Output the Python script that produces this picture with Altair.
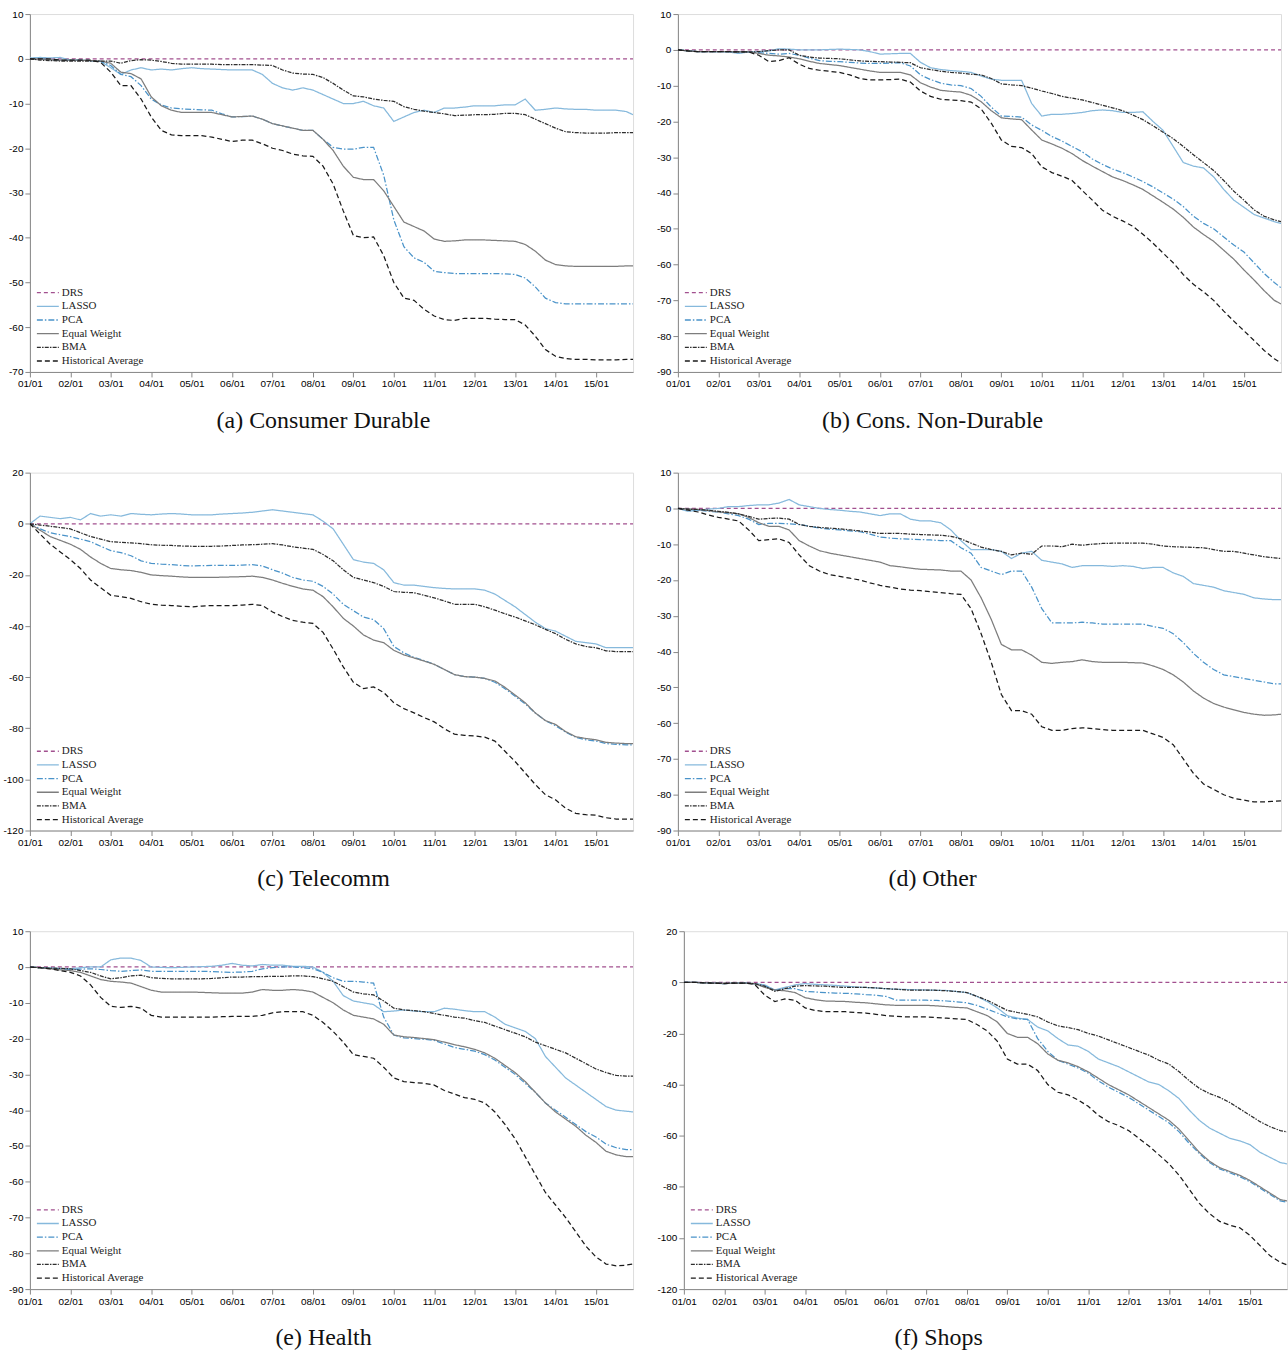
import altair as alt
import pandas as pd

# ---------------- time grid (quarterly, Jan 2001 .. Oct 2015, then Dec 2015) ----------------
DATES = [f"{y}-{m:02d}" for y in range(2001, 2016) for m in (1, 4, 7, 10)] + ["2015-12"]
YEAR_TICKS = list(range(2001, 2016))

SERIES = ["DRS", "LASSO", "PCA", "Equal Weight", "BMA", "Historical Average"]
COLORS = ["#a2508f", "#86b9dc", "#4a93c9", "#7d7d7d", "#2e2e2e", "#1a1a1a"]
DASHES = [[4, 3], [1, 0], [6, 2, 1.5, 2], [1, 0], [4, 1.2, 1.5, 1.2], [5, 3]]

DRS = [0.0] * 61

# ---------------- (a) Consumer Durable ----------------
CD_LASSO = [0.2, 0.3, 0.2, 0.3, -0.3, -0.3, -0.4, -0.6, -2, -3.5, -2.5, -2, -2.5, -2.3, -2.5, -2.2,
            -2, -2.2, -2.3, -2.4, -2.5, -2.5, -2.5, -3.5, -5.5, -6.5, -7, -6.5, -7, -8, -9, -10,
            -10, -9.5, -10.5, -11, -14, -13, -12, -11.5, -12, -11, -11, -10.8, -10.5, -10.5, -10.5, -10.3,
            -10.3, -9, -11.5, -11.3, -11, -11.2, -11.3, -11.3, -11.5, -11.5, -11.5, -11.8, -12.5]
CD_PCA = [0, 0.1, -0.2, -0.3, -0.3, -0.3, -0.4, -0.6, -1.5, -3.5, -4, -6, -9, -10.3, -11, -11.2,
          -11.3, -11.4, -11.5, -12.3, -13, -12.9, -12.8, -13.5, -14.5, -15, -15.5, -16, -16, -18, -19.8, -20.2,
          -20.2, -19.8, -19.8, -26, -36, -42, -44.5, -45.5, -47.5, -47.8, -48, -48, -48, -48, -48, -48.1,
          -48.2, -49, -51, -53.5, -54.5, -54.8, -54.8, -54.8, -54.8, -54.8, -54.8, -54.8, -54.8]
CD_EW = [0, 0, -0.2, -0.3, -0.3, -0.3, -0.4, -0.5, -1, -3, -3.3, -4.5, -8.5, -10.5, -11.5, -12,
         -12, -12, -12, -12.5, -13, -12.9, -12.8, -13.5, -14.5, -15, -15.5, -16, -16, -18, -20.5, -24,
         -26.5, -27, -27, -29.5, -33, -36.5, -37.5, -38.5, -40.3, -40.8, -40.7, -40.5, -40.5, -40.5, -40.6, -40.7,
         -40.8, -41.5, -43, -45, -46, -46.3, -46.4, -46.4, -46.4, -46.4, -46.4, -46.3, -46.3]
CD_BMA = [0, -0.3, -0.4, -0.5, -0.5, -0.5, -0.5, -0.5, -0.5, -1, -0.4, -0.2, -0.3, -0.6, -1, -1.2,
          -1.2, -1.2, -1.2, -1.3, -1.3, -1.3, -1.3, -1.4, -1.5, -2.5, -3.2, -3.4, -3.5, -4.2, -5.5, -7,
          -8.3, -8.5, -9, -9.3, -9.5, -10.7, -11.3, -11.7, -12, -12.3, -12.7, -12.6, -12.5, -12.5, -12.4, -12.2,
          -12.2, -12.5, -13.5, -14.5, -15.5, -16.3, -16.5, -16.6, -16.6, -16.6, -16.5, -16.5, -16.5]
CD_HA = [0, 0, 0, -0.3, -0.3, -0.3, -0.3, -0.8, -3, -6, -6, -9, -13, -16, -17, -17.2,
         -17.2, -17.2, -17.5, -18, -18.5, -18.2, -18.2, -19, -20, -20.5, -21.3, -21.7, -21.8, -24, -28, -34,
         -39.5, -40, -39.8, -44, -50, -53.5, -54, -56, -57.5, -58.3, -58.5, -58, -58, -58, -58.2, -58.3,
         -58.3, -59.5, -62, -65, -66.5, -67, -67.2, -67.2, -67.3, -67.3, -67.3, -67.2, -67.2]

# ---------------- (b) Cons. Non-Durable ----------------
ND_LASSO = [0, -0.3, -0.5, -0.5, -0.5, -0.6, -1, -0.6, -0.5, -0.3, 0.3, 0.2, 0, 0, 0, 0.1,
            0.2, 0.1, 0, -0.5, -1.2, -1.1, -1, -1, -3.5, -5, -5.5, -5.8, -6, -6.3, -7.3, -8.2,
            -8.5, -8.5, -8.5, -15, -18.5, -18, -18, -17.8, -17.5, -17, -16.8, -17, -17.5, -17.5, -17.3, -20,
            -22.5, -27, -31.5, -32.5, -33, -35.5, -39, -42, -44, -46, -47, -48, -48.5]
ND_PCA = [0, -0.3, -0.5, -0.5, -0.5, -0.5, -0.6, -0.6, -0.8, -1, -1.2, -1, -1.5, -2.3, -3, -3.2,
          -3.3, -3.5, -3.7, -3.8, -3.8, -3.7, -3.6, -4.5, -7, -8.3, -9.3, -9.8, -10, -10.8, -13, -16,
          -18.5, -18.6, -18.8, -21, -22.5, -24.2, -25.5, -27, -28.5, -30.5, -32, -33.3, -34.3, -35.5, -36.8, -38.3,
          -40, -41.7, -43.8, -46.5, -48.5, -50, -52.3, -54.5, -56.5, -59.5, -62.5, -65, -66.5]
ND_EW = [0, -0.3, -0.5, -0.5, -0.5, -0.5, -0.6, -0.6, -1, -1.5, -1.7, -2, -2.5, -3.2, -3.8, -4.1,
         -4.4, -4.9, -5.4, -5.9, -6.3, -6.3, -6.3, -7, -9.2, -10.4, -11.3, -11.6, -11.8, -12.7, -14.5, -17,
         -19, -19.3, -19.5, -22.4, -25.2, -26.3, -27.5, -29, -30.9, -32.5, -34, -35.5, -36.5, -37.7, -39, -40.8,
         -42.6, -44.5, -46.8, -49.5, -51.6, -53.5, -56, -58.5, -61.5, -64.3, -67.3, -70, -71]
ND_BMA = [0, -0.3, -0.5, -0.5, -0.5, -0.5, -0.6, -0.6, -0.5, -0.2, 0, 0, -1.5, -2, -2.3, -2.4,
          -2.5, -2.8, -3.1, -3.2, -3.3, -3.4, -3.5, -3.6, -5, -5.5, -6, -6.3, -6.5, -6.8, -7, -8,
          -9.5, -9.8, -10, -10.7, -11.5, -12.2, -13, -13.5, -14, -14.7, -15.5, -16.2, -17, -18.2, -19.5, -21.2,
          -23, -24.8, -27, -29.3, -31.5, -33.7, -36.5, -39.5, -42, -44.7, -46.5, -47.5, -48]
ND_HA = [0, -0.3, -0.5, -0.5, -0.5, -0.5, -0.6, -0.6, -1.5, -3.3, -3, -2.2, -4, -5.2, -5.7, -6,
         -6.3, -7, -8, -8.4, -8.4, -8.3, -8.2, -9, -11.5, -13, -13.8, -14, -14.2, -14.6, -16.5, -20.5,
         -25.2, -27, -27.3, -29, -32.7, -34.3, -35.3, -36.5, -39.3, -42, -44.8, -46.5, -47.8, -49.3, -51.5, -54,
         -56.8, -59.5, -62.8, -65.5, -67.6, -70, -73, -75.8, -78.5, -81.2, -84, -86.3, -87.5]

# ---------------- (c) Telecomm ----------------
TC_LASSO = [0, 3, 2.5, 2, 2.5, 1.5, 4, 3, 3.5, 3, 4, 3.7, 3.5, 3.8, 4, 3.8,
            3.5, 3.5, 3.5, 3.8, 4, 4.2, 4.5, 5, 5.5, 5, 4.5, 4, 3.5, 1, -2, -8,
            -14, -15, -15.5, -18, -23, -24, -24, -24.5, -25, -25.3, -25.5, -25.5, -25.5, -26, -27.5, -30,
            -32.5, -35.5, -38.5, -41, -42, -44, -46, -46.5, -47, -48.5, -48.5, -48.5, -48.5]
TC_PCA = [0, -2, -3.5, -4.3, -5, -6, -7, -8.8, -10.5, -11.3, -12.5, -14.5, -15.5, -15.8, -16, -16.3,
          -16.5, -16.4, -16.3, -16.3, -16.3, -16.2, -16, -16.5, -18, -19.3, -21, -22, -22.5, -24.5, -27.5, -31.5,
          -34, -36.5, -37.5, -41, -48, -50.5, -52.3, -53.5, -55, -57, -59, -59.8, -60, -60.5, -62, -64.5,
          -67.5, -70.5, -74, -77, -79, -81.5, -83.5, -84.5, -85, -86, -86.3, -86.5, -86.5]
TC_EW = [0, -2.5, -5, -6.5, -8, -10, -13, -15.5, -17.5, -18, -18.3, -19, -20, -20.3, -20.5, -20.8,
         -21, -21, -21, -20.9, -20.8, -20.7, -20.5, -21, -22, -23.3, -24.5, -25.5, -26, -28.5, -32.5, -37,
         -40, -43.5, -45.5, -46.5, -49.5, -51.3, -52.5, -53.7, -55, -57, -59, -59.8, -60, -60.5, -61.5, -64,
         -67, -70, -74, -77, -78.5, -81.3, -83.3, -84, -84.5, -85.5, -85.8, -86, -86]
TC_BMA = [0, -0.5, -1, -1.5, -2, -3.5, -5, -6, -7, -7.3, -7.5, -7.8, -8.2, -8.4, -8.5, -8.7,
          -8.8, -8.8, -8.8, -8.7, -8.5, -8.3, -8.2, -8, -7.8, -8.3, -9, -9.5, -10, -12, -14.5, -18,
          -21, -22, -23, -24.5, -26.5, -26.8, -27, -28, -29, -30.2, -31.5, -31.5, -31.5, -32.5, -33.8, -35.2,
          -36.5, -38, -39.5, -41.3, -43, -45.2, -47, -48, -48.5, -49.7, -50, -50, -50]
TC_HA = [0, -4, -8, -11, -14, -17.5, -22, -25, -28, -28.5, -29.2, -30.5, -31.5, -31.8, -32, -32.3,
         -32.5, -32.2, -32, -32, -32, -31.8, -31.5, -32, -34.5, -36.3, -37.8, -38.5, -39, -42.5, -49, -56,
         -62, -64.5, -63.8, -66, -70, -72.3, -74, -75.8, -77.5, -80.2, -82.3, -82.8, -83, -83.5, -85, -89,
         -93, -97.5, -102, -106, -108, -111.3, -113.3, -113.8, -114, -115, -115.5, -115.5, -115.5]

# ---------------- (d) Other ----------------
OT_LASSO = [0, -0.8, -0.5, -0.2, 0, 0.5, 0.5, 0.8, 1, 1, 1.5, 2.5, 1, 0.5, 0, -0.3,
            -0.5, -0.8, -1, -1.5, -2, -1.5, -1.5, -3, -3.5, -3.5, -4, -6, -9, -11.5, -11.5, -11.5,
            -12, -14, -12.5, -12, -14.5, -15, -15.5, -16.5, -16, -16, -16, -16.2, -16, -16.2, -16.8, -16.5,
            -16.5, -18, -19, -21, -21.5, -22, -23, -23.5, -24, -25, -25.3, -25.5, -25.5]
OT_PCA = [0, -0.2, -0.5, -0.8, -1, -1.5, -2, -3, -4.5, -4.2, -4.2, -4.3, -4.5, -5, -5.5, -5.8,
          -6, -6.3, -6.5, -7.2, -8, -8.3, -8.5, -8.6, -8.7, -8.8, -9, -9, -11, -12.5, -16.5, -17.5,
          -18.5, -17.5, -17.5, -22, -28, -32, -32, -32, -31.8, -32, -32.3, -32.3, -32.3, -32.3, -32.3, -33,
          -33.5, -35, -37.5, -40.5, -43, -45, -46.5, -47, -47.5, -48, -48.5, -49, -49]
OT_EW = [0, -0.2, -0.3, -0.6, -1, -1.2, -1.5, -2.5, -4, -5, -5, -6, -9, -10.5, -11.8, -12.5,
         -13, -13.5, -14, -14.5, -15, -16, -16.3, -16.7, -17, -17.1, -17.2, -17.5, -17.5, -20, -25, -31,
         -38, -39.5, -39.5, -41, -43, -43.3, -43, -42.8, -42.3, -42.8, -43, -43, -43, -43.1, -43.2, -44,
         -45, -46.5, -48.5, -51, -53, -54.5, -55.5, -56.3, -57, -57.5, -57.8, -57.7, -57.5]
OT_BMA = [0, -0.2, -0.3, -0.5, -0.8, -1.1, -1.5, -2.2, -3, -2.8, -2.7, -3, -4.5, -5, -5.3, -5.5,
          -5.7, -6, -6.3, -6.6, -7, -7, -7, -7.2, -7.3, -7.4, -7.5, -7.8, -8.5, -9.7, -10.8, -11.5,
          -12, -13, -12.5, -12.8, -10.5, -10.5, -10.7, -10, -10.3, -10, -9.8, -9.7, -9.7, -9.7, -9.7, -10,
          -10.5, -10.7, -10.8, -10.9, -11, -11.5, -12, -12, -12.5, -13, -13.5, -13.8, -14]
OT_HA = [0, -0.5, -1, -1.8, -2.5, -3, -3.5, -6, -9, -8.7, -8.5, -9.5, -13, -16, -17.5, -18.5,
         -19, -19.5, -20, -20.8, -21.5, -22, -22.5, -22.8, -23, -23.3, -23.5, -23.8, -24, -28, -35, -43,
         -52, -56.5, -56.5, -57.5, -61, -62, -62, -61.5, -61.3, -61.5, -61.8, -62, -62, -62, -62, -63,
         -64, -66, -70, -74, -77, -78.5, -80, -81, -81.5, -82, -82, -81.8, -81.7]

# ---------------- (e) Health ----------------
HL_LASSO = [0, -0.2, -0.3, -0.4, -0.5, -0.2, 0, 0, 2, 2.5, 2.5, 1.8, 0, -0.1, -0.2, -0.1,
            0, 0.1, 0.2, 0.5, 1, 0.5, 0.3, 0.7, 0.5, 0.5, 0.2, 0.2, 0, -1.5, -4, -8,
            -9.5, -10, -10.5, -12.5, -12.3, -12, -12.3, -12.5, -12.5, -11.5, -11.8, -12.2, -12.5, -12.5, -14, -16,
            -17, -18, -20, -25, -28, -31, -33, -35, -37, -39, -40, -40.3, -40.5]
HL_PCA = [0, -0.2, -0.3, -0.5, -0.7, -0.6, -0.5, -0.7, -1, -1.2, -1, -0.8, -1.2, -1.2, -1.2, -1.2,
          -1.2, -1.2, -1.3, -1.4, -1.5, -1.4, -1.2, -0.5, -0.2, 0, 0, -0.2, -0.5, -1.5, -3, -4,
          -4, -4.2, -4.5, -14, -19, -19.8, -20, -20.2, -20.5, -21.5, -22.5, -23, -23.5, -24.5, -26, -28,
          -30, -32.5, -35, -38, -40, -42, -44, -46, -47.5, -49.5, -50.5, -51, -51]
HL_EW = [0, -0.2, -0.5, -0.8, -1, -1.5, -2.5, -3.5, -4, -4.2, -4.5, -5.5, -6.5, -7, -7, -7,
         -7, -7.1, -7.2, -7.3, -7.3, -7.3, -7, -6.3, -6.5, -6.5, -6.3, -6.5, -7, -8.5, -10, -12,
         -13.5, -14, -14.5, -16, -19, -19.5, -19.7, -20, -20.3, -21, -21.7, -22.3, -23, -24, -25.5, -27.5,
         -29.5, -32, -35, -38, -40.5, -42.5, -44.5, -47, -49, -51.5, -52.5, -53, -53]
HL_BMA = [0, -0.2, -0.3, -0.4, -0.5, -1, -1.5, -2.5, -3.3, -3, -2.5, -2.3, -3, -3.2, -3.3, -3.3,
          -3.3, -3.3, -3.2, -3, -2.8, -2.8, -2.7, -2.7, -2.6, -2.6, -2.5, -2.5, -2.7, -3.3, -4, -5.5,
          -7, -7.5, -7.8, -9.5, -11.5, -12, -12.2, -12.5, -13, -13.5, -14, -14.3, -15, -15.5, -16.5, -17.5,
          -18.5, -19.5, -21, -22, -23, -24, -25.5, -27, -28.5, -29.5, -30.3, -30.5, -30.5]
HL_HA = [0, -0.2, -0.5, -1, -1.5, -2.5, -5, -8.5, -11, -11.3, -11, -11.5, -13.5, -14, -14, -14,
         -14, -14, -14, -13.9, -13.8, -13.8, -13.8, -13.5, -12.8, -12.5, -12.5, -12.5, -13.5, -15.5, -18, -21,
         -24.5, -25, -25.5, -28, -31, -32, -32.3, -32.5, -33, -34.5, -35.5, -36.5, -37, -38, -40.5, -44,
         -48, -53, -58, -63, -66.5, -70, -74, -78, -81, -83, -83.5, -83.3, -83]

# ---------------- (f) Shops ----------------
SH_LASSO = [0, 0, -0.2, -0.3, -0.5, -0.3, -0.3, -0.5, -1, -3, -2, -1, -0.5, -0.8, -1, -1.2,
            -1.5, -1.8, -2, -2.2, -2.5, -2.7, -2.8, -2.9, -3, -3.1, -3.2, -3.6, -4, -5.5, -7.5, -10,
            -13, -14, -14.5, -17.5, -19, -22, -24.5, -25, -27, -30, -31.5, -33, -35, -37, -39, -40,
            -42.5, -45.5, -50, -54, -57, -59, -61, -62, -63.5, -66.5, -68.5, -70.5, -71]
SH_PCA = [0, 0, -0.2, -0.3, -0.5, -0.3, -0.3, -0.5, -1.5, -3, -2.5, -2.5, -3.5, -3.8, -4, -4.2,
          -4.3, -4.5, -4.8, -5, -5.5, -7, -7, -7, -7, -7.1, -7.3, -7.6, -8, -9, -10.5, -12,
          -13.5, -14.3, -14.5, -22, -27, -30.5, -32, -33.5, -35.5, -38.5, -41, -43, -45, -47.5, -50, -52.5,
          -55, -58.5, -63, -67, -70.5, -73, -74.5, -76, -78, -80.5, -83, -85.5, -86]
SH_EW = [0, 0, -0.2, -0.3, -0.5, -0.3, -0.3, -0.5, -2, -3, -3.3, -4, -6, -6.8, -7.3, -7.4,
         -7.5, -7.8, -8, -8.4, -8.8, -9, -9, -9, -9, -9.2, -9.5, -9.8, -10, -11.5, -13, -15.5,
         -20, -21.5, -21.5, -24, -28, -30.5, -31.5, -33, -35, -37.5, -40, -42, -44, -46.5, -49, -51.5,
         -54, -57.5, -62, -66.5, -70, -72.5, -74, -75.5, -77.5, -80, -82.5, -85, -85.5]
SH_BMA = [0, 0, -0.2, -0.3, -0.3, -0.3, -0.3, -0.5, -1.5, -3.5, -2.5, -1.5, -1.3, -1.4, -1.5, -1.8,
          -2, -2, -2, -2.2, -2.5, -2.7, -3, -3, -3, -3.1, -3.3, -3.6, -4, -5.5, -7, -9,
          -11, -11.8, -12.5, -13.5, -15.5, -17, -17.7, -18.5, -20, -21, -22.5, -24, -25.5, -27, -28.5, -30.5,
          -32, -35, -38.5, -41.5, -43.5, -45, -47, -49.5, -52, -54.5, -56.5, -58, -58.5]
SH_HA = [0, 0, -0.2, -0.3, -0.5, -0.3, -0.3, -0.8, -5, -7.5, -6.5, -7, -10, -11, -11.5, -11.5,
         -11.5, -11.8, -12, -12.5, -13, -13.3, -13.5, -13.5, -13.5, -13.8, -14, -14.3, -14.5, -16.5, -19, -23,
         -30, -32, -32, -34.5, -40, -43, -44, -46, -48.5, -52, -54.5, -56, -58, -61, -64, -67.5,
         -71, -75.5, -81, -86.5, -90.5, -93.5, -95, -96, -99, -103, -107, -109.5, -110.5]

PANELS = [
    ("(a) Consumer Durable", [DRS, CD_LASSO, CD_PCA, CD_EW, CD_BMA, CD_HA], -70, 10, 10, -8),
    ("(b) Cons. Non-Durable", [DRS, ND_LASSO, ND_PCA, ND_EW, ND_BMA, ND_HA], -90, 10, 10, -47),
    ("(c) Telecomm", [DRS, TC_LASSO, TC_PCA, TC_EW, TC_BMA, TC_HA], -120, 20, 20, -8),
    ("(d) Other", [DRS, OT_LASSO, OT_PCA, OT_EW, OT_BMA, OT_HA], -90, 10, 10, -47),
    ("(e) Health", [DRS, HL_LASSO, HL_PCA, HL_EW, HL_BMA, HL_HA], -90, 10, 10, -8),
    ("(f) Shops", [DRS, SH_LASSO, SH_PCA, SH_EW, SH_BMA, SH_HA], -120, 20, 20, -47),
]


def to_year(d):
    y, m = d.split("-")
    return int(y) + (int(m) - 1) / 12.0


TIMES = [to_year(d) for d in DATES]
X_END = TIMES[-1]

legend_kw = dict(
    title=None, orient="bottom-left", offset=6, symbolType="M-1,0H3", symbolSize=121,
    symbolStrokeWidth=1.3, symbolFillColor="transparent",
    labelFont="Liberation Serif", labelFontSize=11, labelColor="#222222",
    rowPadding=1.7, labelOffset=13, padding=0, symbolOffset=0,
)


def panel(title, series_vals, ymin, ymax, ystep, dx):
    rows = []
    for name, vals in zip(SERIES, series_vals):
        for t, v in zip(TIMES, vals):
            rows.append({"t": t, "v": v, "s": name})
    df = pd.DataFrame(rows)
    return alt.Chart(df).mark_line(strokeWidth=1.25, clip=True).encode(
        x=alt.X("t:Q",
                scale=alt.Scale(domain=[2001, X_END], nice=False, zero=False),
                axis=alt.Axis(values=YEAR_TICKS, title=None, grid=False, labelFlush=False,
                              labelExpr="(datum.value < 2010 ? '0' : '') + (datum.value - 2000) + '/01'")),
        y=alt.Y("v:Q",
                scale=alt.Scale(domain=[ymin, ymax], nice=False, zero=False),
                axis=alt.Axis(values=list(range(ymin, ymax + 1, ystep)), title=None, grid=False,
                              labelFlush=False, labelExpr="'' + datum.value")),
        color=alt.Color("s:N", scale=alt.Scale(domain=SERIES, range=COLORS),
                        legend=alt.Legend(**legend_kw)),
        strokeDash=alt.StrokeDash("s:N", scale=alt.Scale(domain=SERIES, range=DASHES),
                                  legend=alt.Legend(**legend_kw)),
        order=alt.Order("t:Q"),
    ).properties(
        width=605, height=359,
        title=alt.TitleParams(title, orient="bottom", anchor="middle", font="Liberation Serif",
                              fontSize=24, fontWeight="normal", color="#111111", offset=20, dx=dx),
    )


charts = [panel(*p) for p in PANELS]
rows = []
for i in range(0, 6, 2):
    rows.append(alt.hconcat(charts[i], charts[i + 1], spacing=22)
                .resolve_scale(color="independent", strokeDash="independent"))

chart = alt.vconcat(*rows, spacing=33).resolve_scale(
    color="independent", strokeDash="independent"
).properties(
    padding={"left": 2, "top": 6, "right": 0, "bottom": 0}
).configure_view(stroke=None).configure_axis(
    domainColor="#8a8a8a", domainWidth=1, grid=False, ticks=False,
    labelFont="Liberation Serif", labelFontSize=13, labelColor="#444444", labelPadding=3,
).configure(background="white")

chart.save("out.html", embed_options={"renderer": "svg", "actions": False})
